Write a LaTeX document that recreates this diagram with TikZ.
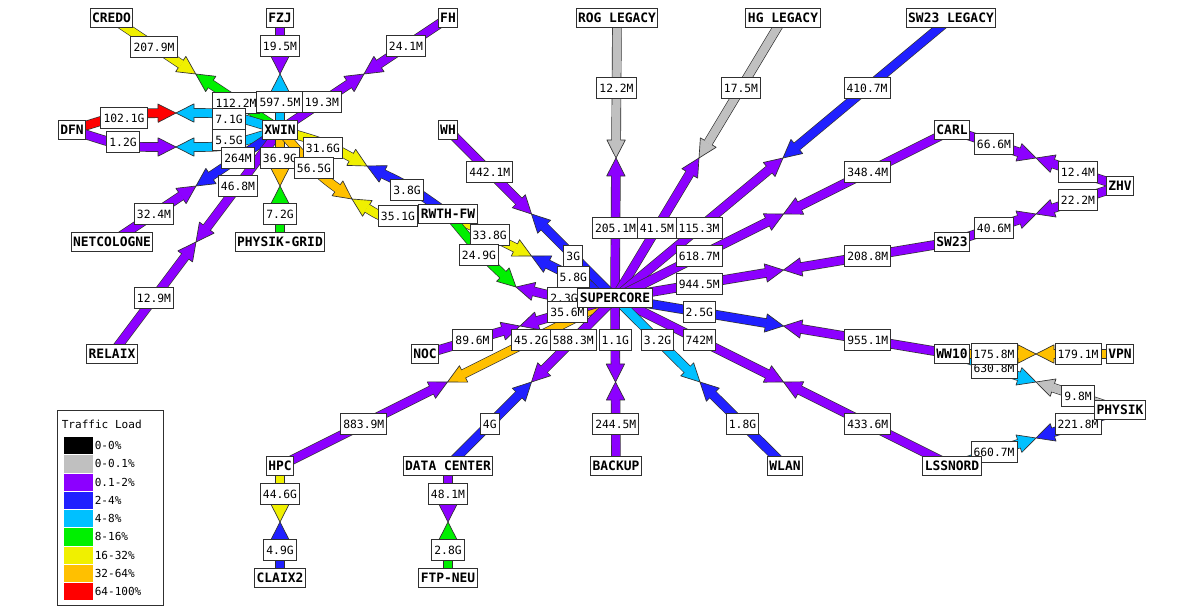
\documentclass[tikz,border=0pt]{standalone}
\usepackage{fontspec}
\usetikzlibrary{calc}
\newfontfamily\wmfont{DejaVu Sans Mono}
\definecolor{lzero}{HTML}{000000}
\definecolor{lgrey}{HTML}{C0C0C0}
\definecolor{lpurple}{HTML}{8C00FF}
\definecolor{lblue}{HTML}{2020FF}
\definecolor{lcyan}{HTML}{00C0FF}
\definecolor{lgreen}{HTML}{00F000}
\definecolor{lyellow}{HTML}{F0F000}
\definecolor{lorange}{HTML}{FFC000}
\definecolor{lred}{HTML}{FF0000}
\definecolor{edgegrey}{HTML}{303030}
\pgfdeclarelayer{arrows}
\pgfdeclarelayer{labels}
\pgfsetlayers{arrows,labels,main}
\tikzset{
  hub/.style={draw=edgegrey,fill=white,line width=0.75pt,font=\wmfont\bfseries\fontsize{9.7}{10}\selectfont,
    inner xsep=1.5pt,inner ysep=0pt,minimum height=14.25pt,text height=6.6pt,text depth=0pt},
  lab/.style={draw=edgegrey,fill=white,line width=0.75pt,font=\wmfont\fontsize{8.5}{10}\selectfont,
    inner xsep=1.9pt,inner ysep=0pt,minimum height=15.75pt,text height=6.2pt,text depth=0pt},
  swatch/.style={inner sep=0pt,minimum width=21.75pt,minimum height=13pt,anchor=north west},
  legtext/.style={font=\wmfont\fontsize{8.3}{10}\selectfont,inner sep=0pt,anchor=west,text height=6.2pt,text depth=0pt},
}
% one half of a link: from, control, tip, colour
\newcommand\halfarrow[4]{%
  \begin{pgfonlayer}{arrows}
    \coordinate (H) at ($(#3)!13.5pt!(#2)$);
    \coordinate (HL) at ($(H)!6.9pt!90:(#3)$);
    \coordinate (HR) at ($(H)!6.9pt!-90:(#3)$);
    \coordinate (HE) at ($(H)!0.6pt!(#3)$);
    \draw[line width=7.2pt,edgegrey] (#1.center) .. controls (#2) .. (H);
    \draw[fill=#4,draw=edgegrey,line width=0.5pt,line join=round] (HL) -- (#3) -- (HR) -- cycle;
    \draw[line width=6.2pt,#4] (#1.center) .. controls (#2) .. (HE);
  \end{pgfonlayer}}
\newcommand\lab[3]{%
  \begin{pgfonlayer}{labels}
    \node[lab] (#1) at #2 {#3};
  \end{pgfonlayer}}
% straight link: a, b, colour from a, colour from b, label near a, label near b
\newcommand\lnk[6]{%
  \begin{pgfonlayer}{arrows}
    \coordinate (m#1#2) at ($(#1)!.5!(#2)$);
    \coordinate (qa#1#2) at ($(#1)!.25!(#2)$);
    \coordinate (qb#1#2) at ($(#1)!.75!(#2)$);
  \end{pgfonlayer}
  \halfarrow{#1}{qa#1#2}{m#1#2}{#3}
  \halfarrow{#2}{qb#1#2}{m#1#2}{#4}
  \lab{la#1#2}{(qa#1#2)}{#5}
  \lab{lb#1#2}{(qb#1#2)}{#6}}
\begin{document}
\begin{tikzpicture}[x=0.75pt,y=-0.75pt]
\useasboundingbox (0,0) rectangle (1200,613);
\begin{pgfonlayer}{arrows}
\fill[white] (0,0) rectangle (1200,613);
\end{pgfonlayer}
% nodes
\node[hub] (credo) at (111.5,18) {CREDO};
\node[hub] (fzj) at (280,18) {FZJ};
\node[hub] (fh) at (448,18) {FH};
\node[hub] (rog) at (617,18) {ROG LEGACY};
\node[hub] (hg) at (783,18) {HG LEGACY};
\node[hub] (swl) at (951,18) {SW23 LEGACY};
\node[hub] (wh) at (448,130) {WH};
\node[hub] (carl) at (952,130) {CARL};
\node[hub] (zhv) at (1120,186) {ZHV};
\node[hub] (sw) at (952,242) {SW23};
\node[hub] (xwin) at (280,130) {XWIN};
\node[hub] (dfn) at (72,130) {DFN};
\node[hub] (netc) at (112,242) {NETCOLOGNE};
\node[hub] (pgrid) at (280,242) {PHYSIK-GRID};
\node[hub] (rwth) at (448,214) {RWTH-FW};
\node[hub] (sc) at (615,298) {SUPERCORE};
\node[hub] (noc) at (425,354) {NOC};
\node[hub] (relaix) at (112,354) {RELAIX};
\node[hub] (ww) at (952,354) {WW10};
\node[hub] (vpn) at (1120,354) {VPN};
\node[hub] (physik) at (1120,410) {PHYSIK};
\node[hub] (hpc) at (280,466) {HPC};
\node[hub] (dc) at (448,466) {DATA CENTER};
\node[hub] (backup) at (616,466) {BACKUP};
\node[hub] (wlan) at (785,466) {WLAN};
\node[hub] (lss) at (952,466) {LSSNORD};
\node[hub] (claix) at (280,578) {CLAIX2};
\node[hub] (ftp) at (448,578) {FTP-NEU};
% links around XWIN
\coordinate (t0) at ($(credo)!.5!(xwin)$);
\halfarrow{credo}{$(credo)!.25!(xwin)$}{t0}{lyellow}
\halfarrow{xwin}{$(credo)!.75!(xwin)$}{t0}{lgreen}
\lab{l0a}{(154,47)}{207.9M}
\lab{l0b}{(236,103)}{112.2M}
\lnk{fzj}{xwin}{lpurple}{lcyan}{19.5M}{597.5M}
\lnk{fh}{xwin}{lpurple}{lpurple}{24.1M}{19.3M}
\coordinate (t1) at (176,113);
\coordinate (c1a) at (124,113.5);
\coordinate (c1b) at (225,113);
\halfarrow{dfn}{c1a}{t1}{lred}
\halfarrow{xwin}{c1b}{t1}{lcyan}
\lab{l1a}{(124,118.5)}{102.1G}
\lab{l1b}{(229,119)}{7.1G}
\coordinate (t2) at (176,147);
\coordinate (c2a) at (124,147);
\coordinate (c2b) at (225,147);
\halfarrow{dfn}{c2a}{t2}{lpurple}
\halfarrow{xwin}{c2b}{t2}{lcyan}
\lab{l2a}{(123,142.5)}{1.2G}
\lab{l2b}{(229,140)}{5.5G}
\lnk{netc}{xwin}{lpurple}{lblue}{32.4M}{264M}
\lnk{relaix}{xwin}{lpurple}{lpurple}{12.9M}{46.8M}
\lnk{pgrid}{xwin}{lgreen}{lorange}{7.2G}{36.9G}
\coordinate (t3) at (367,166);
\coordinate (c3a) at (325,143);
\coordinate (c3b) at (410,187);
\halfarrow{xwin}{c3a}{t3}{lyellow}
\halfarrow{rwth}{c3b}{t3}{lblue}
\lab{l3a}{(323,148)}{31.6G}
\lab{l3b}{(407,190)}{3.8G}
\coordinate (t4) at (352,199);
\coordinate (c4a) at (318,174);
\coordinate (c4b) at (388,221);
\halfarrow{xwin}{c4a}{t4}{lorange}
\halfarrow{rwth}{c4b}{t4}{lyellow}
\lab{l4a}{(314,168)}{56.5G}
\lab{l4b}{(398,216)}{35.1G}
% links around SUPERCORE
\lnk{rog}{sc}{lgrey}{lpurple}{12.2M}{205.1M}
\lnk{hg}{sc}{lgrey}{lpurple}{17.5M}{41.5M}
\lnk{swl}{sc}{lblue}{lpurple}{410.7M}{115.3M}
\lnk{carl}{sc}{lpurple}{lpurple}{348.4M}{618.7M}
\lnk{sw}{sc}{lpurple}{lpurple}{208.8M}{944.5M}
\lnk{ww}{sc}{lpurple}{lblue}{955.1M}{2.5G}
\lnk{lss}{sc}{lpurple}{lpurple}{433.6M}{742M}
\lnk{wlan}{sc}{lblue}{lcyan}{1.8G}{3.2G}
\lnk{backup}{sc}{lpurple}{lpurple}{244.5M}{1.1G}
\lnk{hpc}{sc}{lpurple}{lorange}{883.9M}{45.2G}
\lnk{dc}{sc}{lblue}{lpurple}{4G}{588.3M}
\lnk{rwth}{sc}{lyellow}{lblue}{33.8G}{5.8G}
\lnk{wh}{sc}{lpurple}{lblue}{442.1M}{3G}
\coordinate (t5) at (516,287);
\coordinate (c5a) at (482,255);
\coordinate (c5b) at (560,298);
\halfarrow{rwth}{c5a}{t5}{lgreen}
\halfarrow{sc}{c5b}{t5}{lpurple}
\lab{l5a}{(479,255)}{24.9G}
\lab{l5b}{(564,298)}{2.3G}
\lnk{noc}{sc}{lpurple}{lpurple}{89.6M}{35.6M}
% right-hand links
\lnk{carl}{zhv}{lpurple}{lpurple}{66.6M}{12.4M}
\lnk{sw}{zhv}{lpurple}{lpurple}{40.6M}{22.2M}
\lnk{ww}{physik}{lcyan}{lgrey}{630.8M}{9.8M}
\lnk{ww}{vpn}{lorange}{lorange}{175.8M}{179.1M}
\lnk{lss}{physik}{lcyan}{lblue}{660.7M}{221.8M}
% lower links
\lnk{hpc}{claix}{lyellow}{lblue}{44.6G}{4.9G}
\lnk{dc}{ftp}{lpurple}{lgreen}{48.1M}{2.8G}
% legend
\node[draw=edgegrey,fill=white,line width=0.75pt,minimum width=79.5pt,minimum height=146.25pt,inner sep=0pt,anchor=north west] (legend) at (57,410) {};
\node[legtext] (legtitle) at (61.5,424) {Traffic Load};
\foreach \c/\t [count=\i from 0] in {lzero/0-0\%,lgrey/0-0.1\%,lpurple/0.1-2\%,lblue/2-4\%,lcyan/4-8\%,lgreen/8-16\%,lyellow/16-32\%,lorange/32-64\%,lred/64-100\%}{
  \node[swatch,fill=\c] (sw\i) at (63.5,{436.8+18.25*\i}) {};
  \node[legtext] (st\i) at (94.5,{445.5+18.25*\i}) {\t};
}
\end{tikzpicture}
\end{document}
